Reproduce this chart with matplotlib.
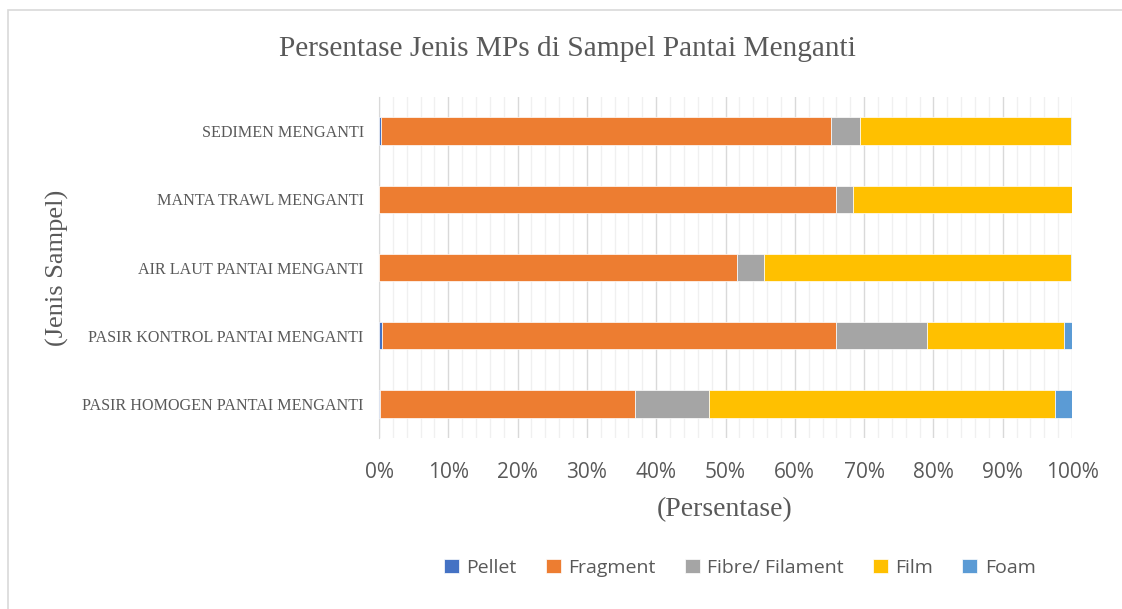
import matplotlib.pyplot as plt
from matplotlib.patches import Rectangle
from matplotlib.ticker import MultipleLocator, PercentFormatter

# samples, listed bottom to top as drawn
samples = ['PASIR HOMOGEN PANTAI MENGANTI',
           'PASIR KONTROL PANTAI MENGANTI',
           'AIR LAUT PANTAI MENGANTI',
           'MANTA TRAWL MENGANTI',
           'SEDIMEN MENGANTI']

# percentage of each MP type per sample
pellet = [0.1, 0.5, 0.0, 0.0, 0.3]
fragment = [36.9, 65.4, 51.7, 66.0, 64.9]
fibre = [10.6, 13.2, 3.9, 2.4, 4.2]
film = [49.9, 19.7, 44.2, 31.6, 30.5]
foam = [2.5, 1.2, 0.2, 0.0, 0.1]

types = ['Pellet', 'Fragment', 'Fibre/ Filament', 'Film', 'Foam']
colors = ['#4472C4', '#ED7D31', '#A5A5A5', '#FFC000', '#5B9BD5']

serif = 'Liberation Serif'
sans = 'Open Sans'
grey = '#595959'

fig = plt.figure(figsize=(11.22, 6.09), dpi=100)
ax = fig.add_axes([379 / 1122, 1 - 438 / 609, (1072 - 379) / 1122, (438 - 97) / 609])

# chart frame
fig.patches.append(Rectangle((8 / 1122, -0.1), 1.2, 1 - 10 / 609 + 0.1,
                             transform=fig.transFigure, fill=False,
                             edgecolor='#d9d9d9', linewidth=1.2))

left = [0.0] * len(samples)
for name, vals, c in zip(types, [pellet, fragment, fibre, film, foam], colors):
    ax.barh(range(len(samples)), vals, left=left, height=0.4, color=c,
            edgecolor='white', linewidth=0.5, label=name, zorder=3)
    left = [a + b for a, b in zip(left, vals)]

ax.set_xlim(0, 100)
ax.set_ylim(-0.5, len(samples) - 0.5)
ax.xaxis.set_major_locator(MultipleLocator(10))
ax.xaxis.set_minor_locator(MultipleLocator(2))
ax.xaxis.set_major_formatter(PercentFormatter(decimals=0))
ax.grid(axis='x', which='major', color='#d9d9d9', linewidth=1.0, zorder=0)
ax.grid(axis='x', which='minor', color='#f0f0f0', linewidth=1.0, zorder=0)
ax.tick_params(axis='x', which='both', length=0, pad=17, labelsize=15, labelcolor=grey)
ax.tick_params(axis='y', length=0, pad=11, labelcolor=grey)

ax.set_yticks(range(len(samples)))
ax.set_yticklabels(samples, fontfamily=serif, fontsize=11.6)
for lab in ax.get_xticklabels():
    lab.set_fontfamily(sans)

for s in ['top', 'right', 'bottom']:
    ax.spines[s].set_visible(False)
ax.spines['left'].set_color('#d9d9d9')

fig.text(567 / 1122, 1 - 49 / 609, 'Persentase Jenis MPs di Sampel Pantai Menganti',
         ha='center', va='center', fontfamily=serif, fontsize=21.2, color=grey)
fig.text(725 / 1122, 1 - 510 / 609, '(Persentase)', ha='center', va='center',
         fontfamily=serif, fontsize=20, color=grey)
fig.text(57 / 1122, 1 - 268 / 609, '(Jenis Sampel)', ha='center', va='center',
         rotation=90, fontfamily=serif, fontsize=19, color=grey)

leg = fig.legend(loc='center', bbox_to_anchor=(740 / 1122, 1 - 568 / 609), ncol=5,
                 frameon=False, handlelength=0.75, handleheight=0.75,
                 handletextpad=0.4, columnspacing=1.5,
                 prop={'family': sans, 'size': 14})
for t in leg.get_texts():
    t.set_color(grey)

fig.savefig('out.png', dpi=100)
